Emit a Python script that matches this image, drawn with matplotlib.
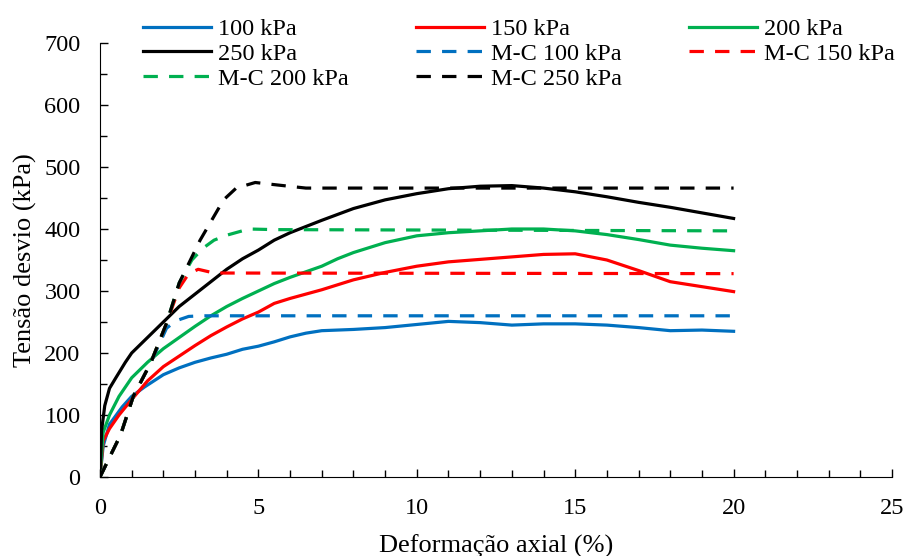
import matplotlib
matplotlib.use('Agg')
import matplotlib.pyplot as plt
from matplotlib.ticker import MultipleLocator

plt.rcParams['font.family'] = ['Liberation Serif', 'DejaVu Serif']

# ensaios triaxiais
x100 = [0, 0.1, 0.3, 0.7, 1.0, 1.4, 2.0, 2.5, 3.0, 3.5, 4.0, 4.5, 5.0, 5.5, 6.0, 6.5, 7.0, 8.0, 9.0, 10.0,
        11.0, 12.0, 13.0, 14.0, 15.0, 16.0, 17.0, 18.0, 19.0, 20.0]
y100 = [0, 50, 85, 113, 130, 145, 165, 176, 185, 192, 198, 206, 211, 218, 226, 232, 236, 238, 241, 246,
        251, 249, 245, 247, 247, 245, 241, 236, 237, 235]

x150 = [0, 0.1, 0.3, 0.6, 1.0, 1.5, 2.0, 2.5, 3.0, 3.5, 4.0, 4.5, 5.0, 5.5, 6.0, 7.0, 8.0, 9.0, 10.0,
        11.0, 12.0, 13.0, 14.0, 15.0, 16.0, 17.0, 18.0, 19.0, 20.0]
y150 = [0, 58, 78, 100, 125, 155, 178, 195, 212, 228, 242, 255, 266, 280, 288, 302, 318, 330, 340,
        347, 351, 355, 359, 360, 350, 333, 315, 307, 299]

x200 = [0, 0.1, 0.3, 0.6, 1.0, 1.5, 2.0, 2.5, 3.0, 3.5, 4.0, 4.5, 5.0, 5.5, 6.0, 6.5, 7.0, 7.5, 8.0, 9.0,
        10.0, 11.0, 12.0, 13.0, 14.0, 15.0, 16.0, 17.0, 18.0, 19.0, 20.0]
y200 = [0, 72, 100, 130, 160, 185, 207, 225, 243, 260, 275, 288, 300, 312, 322, 331, 340, 352, 362, 378,
        389, 394, 397, 400, 400, 397, 391, 383, 374, 369, 365]

x250 = [0, 0.05, 0.15, 0.3, 0.5, 0.8, 1.0, 1.5, 2.0, 2.5, 3.0, 3.5, 4.0, 4.5, 5.0, 5.5, 6.0, 7.0, 8.0, 9.0,
        10.0, 11.0, 12.0, 13.0, 14.0, 15.0, 16.0, 17.0, 18.0, 19.0, 20.0]
y250 = [0, 75, 115, 143, 160, 185, 200, 225, 250, 275, 295, 315, 335, 352, 366, 382, 394, 414, 433, 447,
        457, 465, 469, 470, 466, 460, 452, 443, 435, 426, 417]

# Mohr-Coulomb
mc100_x = [0, 0.4, 0.65, 1.05, 1.6, 2.1, 2.4, 2.8, 3.2, 20]
mc100_y = [0, 42, 68, 130, 184, 240, 252, 259, 260, 260]
mc150_x = [0, 0.4, 0.65, 1.05, 1.6, 2.1, 2.5, 2.8, 3.1, 3.6, 20]
mc150_y = [0, 42, 68, 130, 184, 248, 305, 328, 335, 329, 328]
mc200_x = [0, 0.4, 0.65, 1.05, 1.6, 2.1, 2.5, 2.9, 3.25, 3.6, 4.0, 4.7, 5.5, 20]
mc200_y = [0, 42, 68, 130, 184, 248, 313, 350, 369, 382, 390, 400, 399, 397]
mc250_x = [0, 0.4, 0.65, 1.05, 1.6, 2.1, 2.5, 3.16, 3.9, 4.3, 4.9, 5.6, 6.5, 20]
mc250_y = [0, 42, 68, 130, 184, 248, 313, 382, 447, 466, 475, 471, 466, 466]

blue, red, green, black = '#0070C0', '#FF0000', '#00B050', '#000000'
lw = 2.3
dash = (0, (4.5, 3.5))

fig = plt.figure(figsize=(9.06, 5.56), dpi=100)
ax = fig.add_axes([100/906, 79/556, 792/906, 434/556])

l1, = ax.plot(x100, y100, color=blue, lw=lw, label='100 kPa')
l2, = ax.plot(x150, y150, color=red, lw=lw, label='150 kPa')
l3, = ax.plot(x200, y200, color=green, lw=lw, label='200 kPa')
l4, = ax.plot(x250, y250, color=black, lw=lw, label='250 kPa')
m1, = ax.plot(mc100_x, mc100_y, color=blue, lw=lw, ls=dash, label='M-C 100 kPa')
m2, = ax.plot(mc150_x, mc150_y, color=red, lw=lw, ls=dash, label='M-C 150 kPa')
m3, = ax.plot(mc200_x, mc200_y, color=green, lw=lw, ls=dash, label='M-C 200 kPa')
m4, = ax.plot(mc250_x, mc250_y, color=black, lw=lw, ls=dash, label='M-C 250 kPa')

ax.set_xlim(0, 25)
ax.set_ylim(0, 700)
ax.xaxis.set_major_locator(MultipleLocator(5))
ax.xaxis.set_minor_locator(MultipleLocator(1))
ax.yaxis.set_major_locator(MultipleLocator(100))
ax.yaxis.set_minor_locator(MultipleLocator(50))
ax.tick_params(which='both', direction='in', labelsize=17.5, width=1, colors='black')
ax.tick_params(which='major', length=6)
ax.tick_params(which='minor', length=5)
ax.tick_params(axis='x', which='major', pad=15)
ax.tick_params(axis='y', which='major', pad=14)
ax.spines['top'].set_visible(False)
ax.spines['right'].set_visible(False)

ax.set_xlabel('Deformação axial (%)', fontsize=19, labelpad=11)
ax.set_ylabel('Tensão desvio (kPa)', fontsize=19, labelpad=5)

# ordem por linhas na legenda
hs = [l1, l4, m3, l2, m1, m4, l3, m2]
fig.legend(handles=hs, labels=[h.get_label() for h in hs], loc='upper left',
           bbox_to_anchor=(143/906, 1 - 18/556), ncol=3, frameon=False,
           fontsize=17.5, handlelength=2.8, handletextpad=0.3, columnspacing=2.75,
           labelspacing=0.12, borderpad=0, borderaxespad=0)

fig.savefig('out.png', dpi=100)
